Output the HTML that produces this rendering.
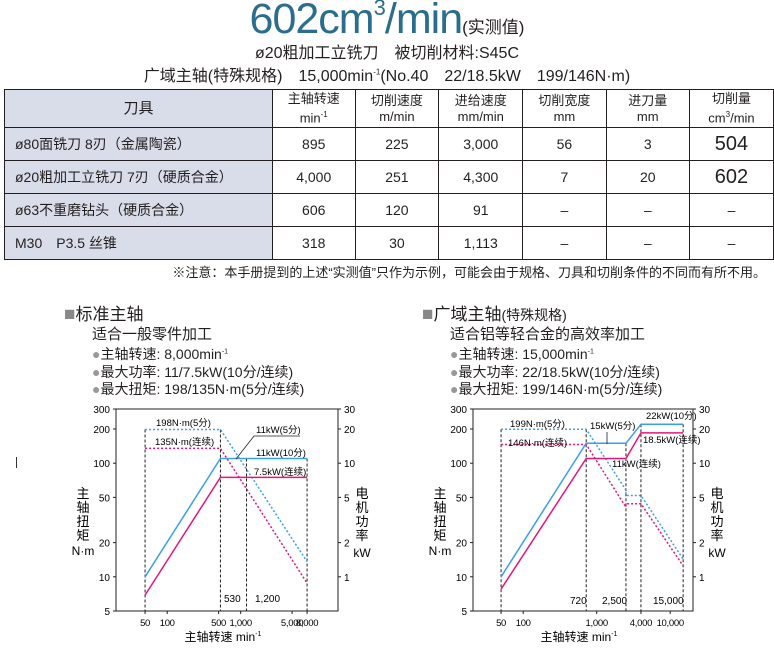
<!DOCTYPE html>
<html><head><meta charset="utf-8">
<style>
body{margin:0;width:774px;height:648px;overflow:hidden;background:#fff;font-family:"Liberation Sans","Noto Sans CJK SC",sans-serif;color:#231f20;position:relative}
.a{position:absolute;white-space:nowrap}
table{position:absolute;left:4px;top:89px;border-collapse:collapse;font-size:14px}
td{border:1px solid #231f20;text-align:center;padding:0;height:32px}
td.t{background:#d8dde9;text-align:left;padding-left:10px}
th{border:1px solid #231f20;font-weight:normal;font-size:13px;line-height:16px;height:34px}
th.t{background:#d8dde9;font-size:15px}
.big{font-size:20px}
</style></head><body>
<div class="a" style="left:0;width:774px;top:-5px;text-align:center;font-size:43px;color:#2b6d8c;letter-spacing:-1px">602cm<sup style="font-size:22px;vertical-align:18px">3</sup>/min<span style="font-size:17px;color:#231f20;letter-spacing:0">(实测值)</span></div>
<div class="a" style="left:0;width:774px;top:39px;text-align:center;font-size:16px">ø20粗加工立铣刀　被切削材料:S45C</div>
<div class="a" style="left:0;width:774px;top:62px;text-align:center;font-size:16px">广域主轴(特殊规格)　15,000min<sup style="font-size:8px">-1</sup>(No.40　22/18.5kW　199/146N·m)</div>
<table>
<tr><th class="t" style="width:271px">刀具</th><th style="width:81px">主轴转速<br>min<sup style="font-size:8px">-1</sup></th><th style="width:82px">切削速度<br>m/min</th><th style="width:82px">进给速度<br>mm/min</th><th style="width:82px">切削宽度<br>mm</th><th style="width:82px">进刀量<br>mm</th><th style="width:82px">切削量<br>cm<sup style="font-size:8px">3</sup>/min</th></tr>
<tr><td class="t">ø80面铣刀 8刃（金属陶瓷）</td><td>895</td><td>225</td><td>3,000</td><td>56</td><td>3</td><td class="big">504</td></tr>
<tr><td class="t">ø20粗加工立铣刀 7刃（硬质合金）</td><td>4,000</td><td>251</td><td>4,300</td><td>7</td><td>20</td><td class="big">602</td></tr>
<tr><td class="t">ø63不重磨钻头（硬质合金）</td><td>606</td><td>120</td><td>91</td><td>–</td><td>–</td><td>–</td></tr>
<tr><td class="t">M30　P3.5 丝锥</td><td>318</td><td>30</td><td>1,113</td><td>–</td><td>–</td><td>–</td></tr>
</table>
<div class="a" style="right:8px;top:262px;font-size:13px">※注意：本手册提到的上述“实测值”只作为示例，可能会由于规格、刀具和切削条件的不同而有所不用。</div>
<div class="a" style="left:64px;top:300px;font-size:17px"><span style="color:#888;font-size:19px">■</span>标准主轴</div>
<div class="a" style="left:92px;top:326px;font-size:15px;line-height:17.5px">适合一般零件加工<br><span style="font-size:14px"><span style="color:#999">●</span>主轴转速: 8,000min<sup style="font-size:7px">-1</sup><br><span style="color:#999">●</span>最大功率: 11/7.5kW(10分/连续)<br><span style="color:#999">●</span>最大扭矩: 198/135N·m(5分/连续)</span></div>
<div class="a" style="left:422px;top:300px;font-size:17px"><span style="color:#888;font-size:19px">■</span>广域主轴<span style="font-size:14px">(特殊规格)</span></div>
<div class="a" style="left:450px;top:326px;font-size:15px;line-height:17.5px">适合铝等轻合金的高效率加工<br><span style="font-size:14px"><span style="color:#999">●</span>主轴转速: 15,000min<sup style="font-size:7px">-1</sup><br><span style="color:#999">●</span>最大功率: 22/18.5kW(10分/连续)<br><span style="color:#999">●</span>最大扭矩: 199/146N·m(5分/连续)</span></div>
<svg id="svg" width="774" height="648" style="position:absolute;left:0;top:0" font-family="Liberation Sans, Noto Sans CJK SC, sans-serif"></svg>
<script>
const torqueTicks=[300,200,100,50,20,10,5];
const powerTicks=[30,20,10,5,2,1];
const L_xTicks=[50,100,500,1000,5000,8000];
const L_xLabels=["50","100","500","1,000","5,000","8,000"];
const R_xTicks=[50,100,1000,4000,10000];
const R_xLabels=["50","100","1,000","4,000","10,000"];
const L_powSpeeds=[50,530,8000];
const L_power5=[1.0,11,11];
const L_powerCont=[0.69,7.5,7.5];
const L_tqSpeeds=[50,530,8000];
const L_torque5=[198,198,13.6];
const L_torqueCont=[135,135,8.8];
const R_powSpeeds=[50,720,2500,4000,15000];
const R_power5=[1.0,15,15,22,22];
const R_powerCont=[0.78,11,11,18.5,18.5];
const R_tqSpeeds=[50,720,2500,2500,4000,15000];
const R_torque5=[199,199,58,52,52,14.3];
const R_torqueCont=[146,146,41,44,44,12.5];
const svg=document.getElementById('svg');
const NS='http://www.w3.org/2000/svg';
function mk(tag,at,txt){const e=document.createElementNS(NS,tag);for(const k in at)e.setAttribute(k,at[k]);if(txt!==undefined)e.textContent=txt;svg.appendChild(e);return e;}
const Y=v=>611-Math.log(v/5)/Math.log(60)*202;
function chart(c){
  const X=v=>c.x1000+(Math.log10(v)-3)*73.5;
  let e=mk('rect',{x:c.l,y:409,width:c.r-c.l,height:202,fill:'none',stroke:'#231f20','stroke-width':1});
  
  torqueTicks.forEach(t=>{e=mk('text',{x:c.l-6,y:Y(t)+4,'font-size':10,'text-anchor':'end'},String(t));
    
    mk('line',{x1:c.l-3,x2:c.l,y1:Y(t),y2:Y(t),stroke:'#231f20'});});
  powerTicks.forEach(p=>{e=mk('text',{x:c.r+6,y:Y(p*10)+4,'font-size':10},String(p));
    
    mk('line',{x1:c.r,x2:c.r+3,y1:Y(p*10),y2:Y(p*10),stroke:'#231f20'});});
  c.xt.forEach((t,i)=>{e=mk('text',{x:X(t),y:626,'font-size':9.5,'text-anchor':'middle','letter-spacing':'-0.3'},c.xl[i]);
    
    mk('line',{x1:X(t),x2:X(t),y1:611,y2:614,stroke:'#231f20'});});
  c.vl.forEach(v=>{e=mk('line',{x1:X(v[0]),x2:X(v[0]),y1:Y(v[1]),y2:611,stroke:'#231f20','stroke-dasharray':'3,2','stroke-width':1});
    });
  const pl=(xs,ys,col,dash,name,scale)=>{e=mk('polyline',{points:xs.map((x,i)=>X(x)+','+Y(ys[i]*scale)).join(' '),fill:'none',stroke:col,'stroke-width':1.5,'stroke-dasharray':dash?'2,2':'none'});
    };
  pl(c.ts,c.t5,'#3aa0e8',1,c.id+'-torque-5min',1);
  pl(c.ts,c.tc,'#e6157a',1,c.id+'-torque-cont',1);
  pl(c.ps,c.p5,'#3aa0e8',0,c.id+'-power-short',10);
  pl(c.ps,c.pc,'#e6157a',0,c.id+'-power-cont',10);
  c.labels.forEach(a=>{e=mk('text',{x:a[0],y:a[1],'font-size':a[3]||9.5},a[2]);
    });
  c.lead.forEach(p=>mk('polyline',{points:p,fill:'none',stroke:'#231f20','stroke-width':0.8}));
  [['主',0],['轴',1],['扭',2],['矩',3]].forEach(a=>{e=mk('text',{x:c.l-33,y:498+a[1]*14,'font-size':13,'text-anchor':'middle'},a[0]);});
  e=mk('text',{x:c.l-33,y:555,'font-size':12,'text-anchor':'middle'},'N·m');
  [['电',0],['机',1],['功',2],['率',3]].forEach(a=>{e=mk('text',{x:c.r+24,y:498+a[1]*14,'font-size':13,'text-anchor':'middle'},a[0]);});
  e=mk('text',{x:c.r+24,y:557,'font-size':12,'text-anchor':'middle'},'kW');
  e=mk('text',{x:(c.l+c.r)/2-4,y:641,'font-size':12,'text-anchor':'middle'});
  
  e.innerHTML='主轴转速  min<tspan font-size="7" dy="-5">-1</tspan>';
}
chart({id:'std',l:116,r:338,x1000:240.7,xt:L_xTicks,xl:L_xLabels,
  vl:[[50,198],[530,198],[1200,110],[8000,110]],
  ts:L_tqSpeeds,t5:L_torque5,tc:L_torqueCont,ps:L_powSpeeds,p5:L_power5,pc:L_powerCont,
  labels:[[156,426,'198N·m(5分)'],[155,445,'135N·m(连续)'],[256,433,'11kW(5分)'],[256,456,'11kW(10分)'],[254,475,'7.5kW(连续)'],[224,602,'530',10],[255,602,'1,200',10]],
  lead:['236,459 254,436 300,436']});
chart({id:'wide',l:473,r:693,x1000:596.7,xt:R_xTicks,xl:R_xLabels,
  vl:[[50,199],[720,199],[2500,150],[4000,220],[15000,220]],
  ts:R_tqSpeeds,t5:R_torque5,tc:R_torqueCont,ps:R_powSpeeds,p5:R_power5,pc:R_powerCont,
  labels:[[510,427,'199N·m(5分)'],[508,446,'146N·m(连续)'],[590,429,'15kW(5分)'],[646,419,'22kW(10分)'],[643,443,'18.5kW(连续)'],[612,467,'11kW(连续)'],[570,604,'720',10],[602,604,'2,500',10],[653,604,'15,000',10]],
  lead:['607,432 607,444']});
</script>
<div class="a" style="left:16px;top:457px;width:1px;height:11px;background:#333"></div>
</body></html>
